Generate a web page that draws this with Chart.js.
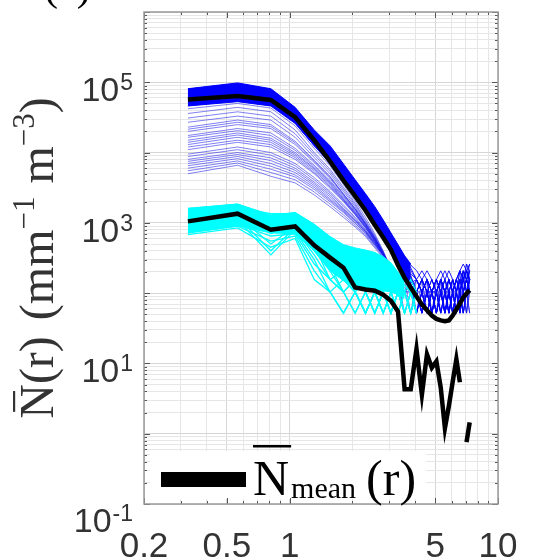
<!DOCTYPE html>
<html><head><meta charset="utf-8">
<script src="https://cdn.jsdelivr.net/npm/chart.js@4.4.0/dist/chart.umd.min.js"></script>
<style>html,body{margin:0;padding:0;background:#fff;}#wrap{width:549px;height:560px;position:relative;}</style>
</head><body><div id="wrap"><canvas id="c" width="549" height="560"></canvas></div>
<script>
// radius bins (mm)
const R = [0.325,0.5625,0.8125,1.0625,1.3125,1.5625,1.8125,2.0625,2.3125,2.5625,2.8125,3.0625,3.3125,3.5625,3.8125,4.0625,4.3125,4.5625,4.8125,5.0625,5.3125,5.5625,5.8125,6.0625,6.3125,6.5625,6.8125,7.0625,7.3125];

// mean curves
const MEAN_ALL = [5.7e4,6.4e4,5.6e4,3.2e4,1.5e4,7.5e3,4.0e3,2.4e3,1.5e3,930,620,415,250,165,120,90,69,57,48,43,41,40,41,48,59,71,87,99,110];
const MEAN_LOW = [1050,1350,800,890,480,320,230,120,113,108,95,78,55,4.3,4.3,16,3.6,13.5,8.7,10.7,4.5,1.2,2.5,5.5,11.5,5.4,null,0.76,1.45];

// dense blue band envelope
const BLUE_BAND_TOP = [8.1e4,9.8e4,8.1e4,4.4e4,2.1e4,1.25e4,6.9e3,4.1e3,2.6e3,1.7e3,1.1e3,720,490,340,260];
const BLUE_BAND_LOW = [4.6e4,5.3e4,4.6e4,2.6e4,1.25e4,7.0e3,3.8e3,2.3e3,1.45e3,900,590,380,240,165,120];

// individual blue spectra (dense part)
const BLUE_DENSE = [
 [8.0e4,9.6e4,7.9e4,4.2e4,2.0e4,1.2e4,6.6e3,3.9e3,2.5e3,1.6e3,1.05e3,700,470,330,250,210,156,208,156,104,156,208,156,104,156,208,260,208,260],
 [7.6e4,9.1e4,7.5e4,4.0e4,1.95e4,1.15e4,6.3e3,3.75e3,2.4e3,1.55e3,1.0e3,660,450,310,230,156,208,156,104,156,208,156,208,156,104,208,156,260,208],
 [7.2e4,8.6e4,7.2e4,3.9e4,1.9e4,1.1e4,6.0e3,3.6e3,2.3e3,1.45e3,950,620,420,290,210,156,104,156,104,156,104,52,104,156,104,156,208,156,208],
 [6.9e4,8.2e4,6.9e4,3.75e4,1.8e4,1.05e4,5.7e3,3.45e3,2.2e3,1.4e3,900,590,400,280,190,156,104,156,104,104,156,104,156,104,156,104,208,156,260],
 [6.6e4,7.8e4,6.6e4,3.6e4,1.75e4,1.0e4,5.5e3,3.3e3,2.1e3,1.3e3,850,560,370,260,180,104,156,104,52,104,156,104,52,104,52,104,156,208,156],
 [6.3e4,7.4e4,6.3e4,3.45e4,1.7e4,9.6e3,5.2e3,3.1e3,2.0e3,1.25e3,820,530,350,240,170,104,156,104,156,104,52,104,156,104,156,208,156,208,156],
 [6.0e4,7.0e4,6.0e4,3.3e4,1.6e4,9.2e3,5.0e3,3.0e3,1.9e3,1.2e3,780,500,330,220,156,104,52,104,104,52,104,52,104,52,104,52,104,156,104],
 [5.7e4,6.6e4,5.7e4,3.15e4,1.5e4,8.7e3,4.7e3,2.8e3,1.8e3,1.1e3,720,470,310,200,140,156,104,52,104,156,104,156,104,52,104,156,104,156,104],
 [5.4e4,6.3e4,5.4e4,3.0e4,1.45e4,8.3e3,4.5e3,2.7e3,1.7e3,1.05e3,690,440,290,190,130,104,52,104,52,104,52,null,52,104,52,104,156,104,156],
 [5.2e4,6.0e4,5.2e4,2.9e4,1.4e4,8.0e3,4.3e3,2.6e3,1.6e3,1.0e3,650,420,280,180,104,52,104,156,52,104,52,104,52,104,156,104,52,104,156],
 [4.9e4,5.7e4,4.9e4,2.75e4,1.3e4,7.5e3,4.1e3,2.45e3,1.55e3,950,620,400,260,170,120,52,104,52,104,52,104,52,104,null,52,104,52,104,208],
 [4.7e4,5.5e4,4.7e4,2.65e4,1.25e4,7.2e3,3.9e3,2.35e3,1.5e3,920,600,390,250,160,104,104,52,104,52,104,156,52,104,52,104,52,104,156,104]
];
// individual blue spectra (sparse part)
const BLUE_SPARSE = [
 [5.0e3,6.6e3,4.6e3,3.7e3,2.5e3,1.7e3,1.2e3,870,640,440,320,230,160,104,156,104,52,104,52,104,156,104,52,null,null,52,104,156,104],
 [5.5e3,7.1e3,5.2e3,4.1e3,2.75e3,1.85e3,1.3e3,920,670,460,330,235,160,104,52,104,156,104,52,104,52,104,156,104,52,104,156,104,52],
 [6.0e3,7.6e3,5.8e3,4.5e3,3.0e3,2.0e3,1.4e3,980,700,480,340,240,165,120,104,52,104,156,104,52,104,52,104,156,104,52,104,52,104],
 [6.5e3,8.2e3,6.4e3,4.8e3,3.2e3,2.1e3,1.45e3,1.0e3,720,490,345,240,160,156,104,52,104,52,104,104,156,104,52,104,52,156,104,52,104],
 [7.0e3,8.8e3,7.0e3,5.2e3,3.4e3,2.2e3,1.5e3,1.05e3,740,500,350,240,160,110,52,104,52,104,52,104,156,104,156,104,52,104,156,104,52],
 [7.5e3,9.4e3,7.7e3,5.6e3,3.6e3,2.35e3,1.55e3,1.08e3,750,510,350,238,155,104,104,52,156,104,52,104,156,104,104,52,104,104,156,208,104],
 [8.0e3,1.0e4,8.4e3,6.0e3,3.8e3,2.5e3,1.6e3,1.1e3,760,520,350,235,150,104,156,104,156,52,104,52,null,52,104,52,104,208,156,208,156],
 [8.8e3,1.1e4,9.2e3,6.5e3,4.1e3,2.65e3,1.7e3,1.15e3,780,525,350,232,148,52,104,156,104,52,104,156,104,52,104,156,104,156,104,52,156],
 [9.5e3,1.2e4,1.0e4,7.0e3,4.4e3,2.8e3,1.8e3,1.2e3,800,530,350,230,145,104,52,104,104,156,104,52,104,52,156,104,156,104,52,104,156],
 [1.1e4,1.4e4,1.2e4,8.0e3,5.0e3,3.1e3,2.0e3,1.3e3,840,550,360,230,140,156,104,52,104,52,104,156,104,156,104,52,104,52,104,156,208],
 [1.2e4,1.5e4,1.3e4,8.5e3,5.2e3,3.25e3,2.05e3,1.32e3,855,555,360,228,140,104,156,104,52,156,104,52,104,156,52,104,156,104,52,104,104],
 [1.3e4,1.65e4,1.4e4,9.0e3,5.5e3,3.4e3,2.1e3,1.35e3,870,560,360,225,140,104,104,156,104,52,104,52,104,104,52,104,156,104,156,104,104],
 [1.4e4,1.78e4,1.5e4,9.5e3,5.8e3,3.55e3,2.15e3,1.38e3,885,565,360,222,138,156,52,104,156,104,104,52,156,104,104,156,52,104,208,104,156],
 [1.5e4,1.9e4,1.6e4,1.0e4,6.0e3,3.7e3,2.2e3,1.4e3,900,570,360,220,135,156,104,104,52,104,156,104,52,104,52,104,52,156,104,208,104],
 [1.65e4,2.05e4,1.75e4,1.08e4,6.3e3,3.85e3,2.3e3,1.45e3,920,580,365,222,132,104,156,52,104,104,52,156,104,52,104,52,104,156,104,156,104],
 [1.75e4,2.2e4,1.9e4,1.15e4,6.6e3,4.0e3,2.4e3,1.5e3,940,590,370,225,130,104,52,156,104,156,52,104,104,156,104,156,104,52,104,52,156],
 [2.0e4,2.5e4,2.2e4,1.3e4,7.2e3,4.3e3,2.5e3,1.55e3,960,600,370,220,130,156,104,52,104,52,null,52,104,156,104,104,156,104,208,156,104],
 [2.15e4,2.7e4,2.35e4,1.38e4,7.5e3,4.45e3,2.55e3,1.58e3,970,605,370,218,128,52,104,104,156,52,104,104,156,104,52,156,104,52,156,208,156],
 [2.3e4,2.9e4,2.5e4,1.45e4,7.8e3,4.6e3,2.6e3,1.6e3,980,610,370,215,125,104,156,104,52,104,104,156,52,104,156,104,52,104,52,104,156],
 [2.7e4,3.3e4,2.9e4,1.65e4,8.5e3,5.0e3,2.8e3,1.7e3,1.0e3,620,375,215,120,156,104,104,156,104,52,104,156,104,52,104,156,208,104,156,208],
 [3.1e4,3.8e4,3.3e4,1.85e4,9.3e3,5.4e3,3.0e3,1.8e3,1.05e3,640,380,215,120,104,52,104,52,104,156,104,104,52,104,156,104,156,156,104,52],
 [3.6e4,4.4e4,3.8e4,2.1e4,1.0e4,5.8e3,3.2e3,1.9e3,1.1e3,660,390,220,120,156,104,156,104,52,104,52,156,104,156,104,104,52,208,156,104],
 [4.2e4,5.0e4,4.3e4,2.4e4,1.15e4,6.5e3,3.5e3,2.05e3,1.2e3,700,400,225,125,104,156,104,104,156,104,156,104,52,104,52,104,156,104,260,156]
];

// cyan band envelope and spectra
const CYAN_BAND_TOP = [1600,1850,1300,1400,950,640,490,440,410,380,330,270,200,150];
const CYAN_BAND_LOW = [720,900,720,700,400,210,150,125,115,110,108,104,95,85];
const CYAN_LINES = [
 [1600,1850,1250,1400,950,620,470,420,390,350,300,240,170,130,104,52],
 [1450,1700,1150,1300,850,520,400,330,300,260,220,156,104,156,104,52],
 [1300,1550,1000,1200,700,420,300,250,208,156,208,156,104,52,104],
 [1200,1450,900,1100,600,350,250,156,208,156,104,156,104,52],
 [1100,1350,700,1000,520,300,208,156,104,156,104,52,104,52],
 [1000,1250,500,900,450,260,156,104,156,104,52,104,52,104,52],
 [950,1200,400,850,400,208,104,156,104,52,104,52,104,52],
 [900,1100,350,800,350,156,208,104,52,104,52,104,52],
 [850,1050,800,750,300,104,156,104,52,104,156,104,52,104,52,104],
 [780,950,650,700,260,156,104,52,104,52,104,52,104,52,104,52],
 [720,900,550,650,208,104,52,104,52,104,52],
 [680,850,450,600,156,104,52,104,52],
 [1500,1650,1350,1350,900,560,430,380,350,300,260,208,156,104,156,104],
 [1350,1500,1100,1250,780,470,350,300,260,208,156,104,156,104,52,104],
 [1250,1400,1050,1150,650,300,156,104,52,104,52,104,52,104,52,104],
 [1150,1300,950,1050,560,250,104,52,104,52,104,52,104,52,104],
 [1050,1200,850,950,480,156,104,156,104,52,104,52,104,156,104,52]
];

// axes
const X_GRID = [0.2,0.3,0.4,0.5,0.6,0.7,0.8,0.9,1,2,3,4,5,6,7,8,9,10];
const X_TICKS = [0.2,0.5,1,5,10];
const X_TICK_TEXT = ['0.2','0.5','1','5','10'];
const Y_DECADES = [-1,0,1,2,3,4,5,6];
const Y_TICK_EXP = [-1,1,3,5];

const yGrid = [];
Y_DECADES.forEach(e=>{ for(let m=1;m<=9;m++){ yGrid.push(m*Math.pow(10,e)); if(e===6) break; } });

const toXY = arr => arr.map((v,i)=>({x:R[i], y:v}));
const datasets = [];
function line(arr,color,width,order){ datasets.push({data:toXY(arr),borderColor:color,borderWidth:width,pointRadius:0,tension:0,spanGaps:false,fill:false,order:order}); return datasets.length-1; }
function band(top,low,color,order){
  const iLow = line(low,color,1,order);
  datasets.push({data:toXY(top),borderColor:color,borderWidth:1,pointRadius:0,tension:0,fill:{target:iLow},backgroundColor:color,order:order});
}
// black means on top
line(MEAN_ALL,'#000000',4.5,0);
line(MEAN_LOW,'#000000',4.5,0);
// cyan
CYAN_LINES.forEach(a=>line(a,'#00ffff',1.3,1));
band(CYAN_BAND_TOP,CYAN_BAND_LOW,'#00ffff',1);
// blue
BLUE_DENSE.forEach(a=>line(a,'rgba(0,0,255,0.85)',1,2));
band(BLUE_BAND_TOP,BLUE_BAND_LOW,'#0000ff',2);
BLUE_SPARSE.forEach(a=>line(a,'rgba(25,25,235,0.55)',1,3));

const isMajX = v => X_TICKS.some(t=>Math.abs(t-v)<1e-9);
const isMajY = v => Math.abs(Math.log10(v)-Math.round(Math.log10(v)))<1e-6;

const deco = {
  id:'deco',
  afterDraw(chart){
    const {ctx, chartArea:a, scales:{x,y}} = chart;
    ctx.save();
    // legend background
    ctx.fillStyle='#ffffff';
    ctx.fillRect(150,451,276,48);
    // box ticks
    ctx.strokeStyle='#555'; ctx.lineWidth=1;
    ctx.beginPath();
    X_GRID.forEach(v=>{ const px=Math.round(x.getPixelForValue(v))+0.5; const L=isMajX(v)?6:3;
      ctx.moveTo(px,a.bottom); ctx.lineTo(px,a.bottom-L); ctx.moveTo(px,a.top); ctx.lineTo(px,a.top+L); });
    yGrid.forEach(v=>{ const py=Math.round(y.getPixelForValue(v))+0.5; const L=isMajY(v)?6:3;
      ctx.moveTo(a.left,py); ctx.lineTo(a.left+L,py); ctx.moveTo(a.right,py); ctx.lineTo(a.right-L,py); });
    ctx.stroke();
    ctx.strokeStyle='#9a9a9a'; ctx.lineWidth=1.5;
    ctx.strokeRect(a.left,a.top,a.right-a.left,a.bottom-a.top);
    // x tick labels
    ctx.fillStyle='#333333';
    ctx.font='35px "Liberation Sans", Arial, sans-serif';
    ctx.textAlign='center'; ctx.textBaseline='alphabetic';
    X_TICKS.forEach((v,i)=>ctx.fillText(X_TICK_TEXT[i], x.getPixelForValue(v), 557));
    // y tick labels
    Y_TICK_EXP.forEach(e=>{
      const py=y.getPixelForValue(Math.pow(10,e)) + (e<0?9:0);
      const ex = e<0 ? '-'+(-e) : String(e);
      ctx.font='23px "Liberation Sans", Arial, sans-serif';
      const ew=ctx.measureText(ex).width;
      ctx.textAlign='left';
      ctx.fillText(ex, 133-ew, py+8);
      ctx.font='34px "Liberation Sans", Arial, sans-serif';
      ctx.textAlign='right';
      ctx.fillText('10', 133-ew-1, py+19);
    });
    // y axis title
    const big='48px "Liberation Serif", "Times New Roman", serif';
    const small='31px "Liberation Serif", "Times New Roman", serif';
    const parts=[{t:'N',f:big,bar:true},{t:'(r)',f:big},{g:16},{t:'(mm',f:big},{t:'\u22121',f:small,up:19},{g:13},{t:'m',f:big},{t:'\u22123',f:small,up:19},{t:')',f:big}];
    let tot=0; parts.forEach(p=>{ if(p.g){tot+=p.g;return;} ctx.font=p.f; p.w=ctx.measureText(p.t).width; tot+=p.w; });
    ctx.save(); ctx.translate(53,(a.top+a.bottom)/2); ctx.rotate(-Math.PI/2);
    ctx.textAlign='left'; ctx.fillStyle='#333333';
    let cx=-tot/2;
    parts.forEach(p=>{ if(p.g){cx+=p.g;return;} ctx.font=p.f; ctx.fillText(p.t,cx,-(p.up||0));
      if(p.bar){ ctx.fillRect(cx+p.w*0.2,-40,p.w*0.6,2.2); } cx+=p.w; });
    ctx.restore();
    // legend
    ctx.fillStyle='#000';
    ctx.fillRect(161,472,85,15);
    ctx.font='50px "Liberation Serif", "Times New Roman", serif'; ctx.textAlign='left';
    ctx.fillText('N',253,495);
    const nw=ctx.measureText('N').width;
    ctx.fillRect(253,445,nw+2,2.5);
    ctx.font='30px "Liberation Serif", "Times New Roman", serif';
    ctx.fillText('mean',253+nw+2,498);
    const mw=ctx.measureText('mean').width;
    ctx.font='50px "Liberation Serif", "Times New Roman", serif';
    ctx.fillText('(r)',253+nw+2+mw+10,495);
    // panel label (cut off at top)
    ctx.font='42px "Liberation Serif", "Times New Roman", serif';
    ctx.fillStyle='#000';
    ctx.fillText('(a)',44,0);
    ctx.restore();
  }
};

new Chart(document.getElementById('c'),{
  type:'line',
  data:{datasets:datasets},
  options:{
    responsive:false, animation:false, devicePixelRatio:1, events:[],
    layout:{padding:{left:144,right:51,top:12,bottom:56}},
    plugins:{legend:{display:false},tooltip:{enabled:false}},
    scales:{
      x:{type:'logarithmic',min:0.2,max:10,
         afterBuildTicks:s=>{s.ticks=X_GRID.map(v=>({value:v}));},
         ticks:{display:false},
         grid:{color:c=>isMajX(c.tick.value)?'#d6d6d6':'#e6e6e6',lineWidth:1,drawTicks:false},
         border:{display:false}},
      y:{type:'logarithmic',min:0.1,max:1e6,
         afterBuildTicks:s=>{s.ticks=yGrid.map(v=>({value:v}));},
         ticks:{display:false},
         grid:{color:c=>isMajY(c.tick.value)?'#d6d6d6':'#e6e6e6',lineWidth:1,drawTicks:false},
         border:{display:false}}
    }
  },
  plugins:[deco]
});
</script>
</body></html>
